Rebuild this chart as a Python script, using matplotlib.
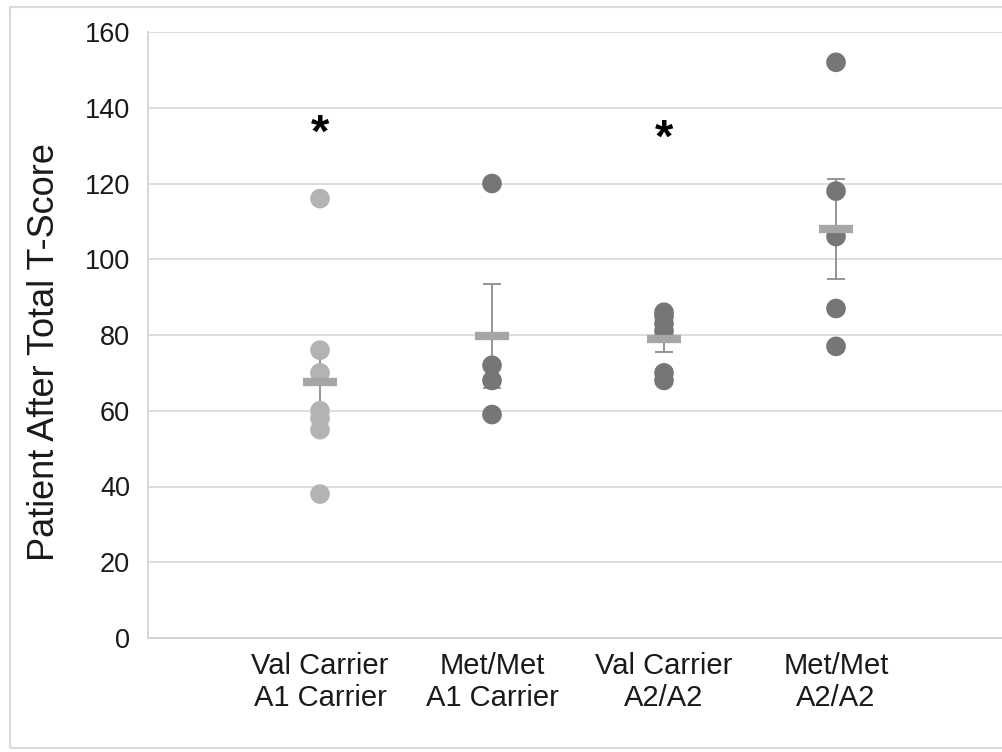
import numpy as np
import matplotlib
matplotlib.use('Agg')
import matplotlib.pyplot as plt
from matplotlib.patches import Rectangle

plt.rcParams['font.family'] = ['Liberation Sans', 'DejaVu Sans']

groups = ['Val Carrier\nA1 Carrier', 'Met/Met\nA1 Carrier', 'Val Carrier\nA2/A2', 'Met/Met\nA2/A2']
g1 = [116, 76, 70, 60, 58, 55, 38]
g2 = [120, 72, 68, 59]
g3 = [86, 85, 83, 81, 70, 68]
g4 = [152, 118, 106, 87, 77]
data = [g1, g2, g3, g4]
point_colors = ['#b3b3b3', '#767676', '#767676', '#767676']
signif = [True, False, True, False]
star_y = [132.8, None, 131.5, None]

fig = plt.figure(figsize=(10.02, 7.52), dpi=100)
ax = fig.add_axes([148/1002, 1-638/752, 1-148/1002, (638-32)/752])

xs = np.arange(1, len(groups)+1)
for x, vals, c in zip(xs, data, point_colors):
	vals = np.array(vals, dtype=float)
	m = vals.mean()
	sem = vals.std(ddof=1)/np.sqrt(len(vals))
	ax.errorbar([x], [m], yerr=[sem], fmt='none', ecolor='#8c8c8c',
		elinewidth=1.3, capsize=6.5, capthick=1.3, zorder=2)
	ax.scatter(np.full(len(vals), x), vals, s=200, color=c, edgecolors='none', zorder=3)
	ax.hlines(m, x-0.1, x+0.1, colors='#a6a6a6', linewidth=6, zorder=4)

for x, s, y in zip(xs, signif, star_y):
	if s:
		ax.text(x, y, '*', ha='center', va='center', fontsize=34, fontweight='bold')

ax.set_xlim(0, 4.965)
ax.set_ylim(0, 160)
ax.set_yticks(range(0, 161, 20))
ax.set_xticks(xs)
ax.set_xticklabels(groups, fontsize=21, color='#1a1a1a')
ax.tick_params(axis='y', labelsize=19.5, length=0, pad=13, labelcolor='#1a1a1a')
ax.tick_params(axis='x', length=0, pad=10)
ax.grid(axis='y', color='#dedede', linewidth=1.4)
ax.set_axisbelow(True)
for side in ['top', 'right']:
	ax.spines[side].set_visible(False)
for side in ['left', 'bottom']:
	ax.spines[side].set_color('#d6d6d6')
	ax.spines[side].set_linewidth(1.4)
fig.text(45/1002, 1-352/752, 'Patient After Total T-Score', rotation=90,
	ha='center', va='center', fontsize=26, color='#1a1a1a')

fig.patches.append(Rectangle((10/1002, 4/752), 1.0, 1-11/752, transform=fig.transFigure,
	fill=False, edgecolor='#d9d9d9', linewidth=1.5))

fig.savefig('out.png', dpi=100)
